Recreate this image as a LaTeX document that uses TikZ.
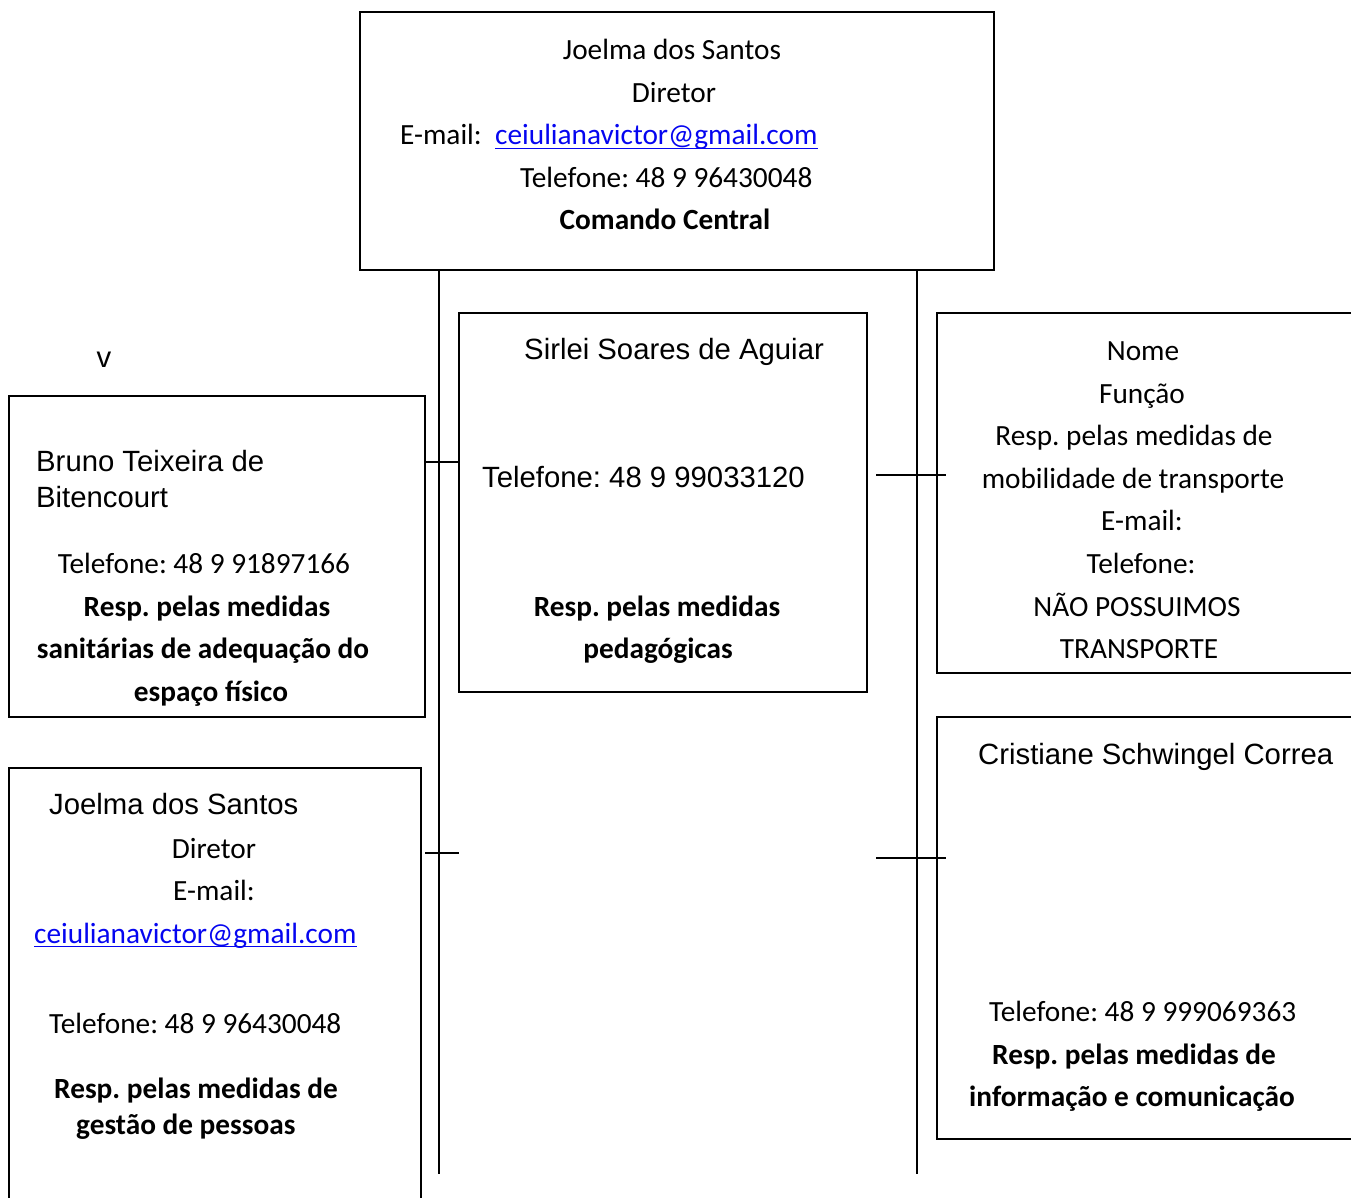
\documentclass[tikz,border=0pt]{standalone}
\usepackage{fontspec}
\setmainfont{Carlito}
\newfontfamily\arialf{Liberation Sans}
\definecolor{linkblue}{RGB}{5,5,240}
\frenchspacing
\begin{document}
\begin{tikzpicture}[x=1pt,y=-1pt,
  box/.style={draw,line width=2.9pt,rectangle,anchor=north west,inner sep=0pt,outer sep=0pt},
  tc/.style={inner sep=0pt,font=\fontsize{29.3}{35}\selectfont\frenchspacing},
  tb/.style={inner sep=0pt,font=\fontsize{29.3}{35}\selectfont\bfseries\frenchspacing},
  ta/.style={inner sep=0pt,font=\fontsize{29.3}{35}\selectfont\arialf\frenchspacing},
  lk/.style={tc,text=linkblue},
  conn/.style={line width=2.9pt}]
\useasboundingbox (0,0) rectangle (1351,1198);
\clip (0,0) rectangle (1351,1198);

% boxes
\node[box,minimum width=634pt,minimum height=258pt] (top) at (360,12) {};
\node[box,minimum width=416pt,minimum height=321pt] (bruno) at (9,396) {};
\node[box,minimum width=408pt,minimum height=379pt] (sirlei) at (459,313) {};
\node[box,minimum width=460pt,minimum height=360pt] (trans) at (937,313) {};
\node[box,minimum width=412pt,minimum height=480pt] (joelma) at (9,768) {};
\node[box,minimum width=460pt,minimum height=422pt] (cris) at (937,717) {};

% trunk lines
\coordinate (L1) at (439,1174);
\coordinate (L2) at (917,1174);
\draw[conn] (L1 |- top.south) -- (L1);
\draw[conn] (L2 |- top.south) -- (L2);

% branch connectors
\coordinate (h1) at (0,462);
\coordinate (h2) at (0,853);
\coordinate (r1a) at (876,475);
\coordinate (r1b) at (946,475);
\coordinate (r2a) at (876,858);
\coordinate (r2b) at (946,858);
\coordinate (h2a) at (425,853);
\draw[conn] (h1 -| bruno.east) -- (h1 -| sirlei.west);
\draw[conn] (h2a) -- (h2 -| sirlei.west);
\draw[conn] (r1a) -- (r1b);
\draw[conn] (r2a) -- (r2b);

% top box text
\node[tc,anchor=base] (t1) at (672,60) {Joelma dos Santos};
\node[tc,anchor=base] (t2) at (674,103) {Diretor};
\node[tc,anchor=base west] (t3) at (400,145) {E-mail:};
\node[lk,anchor=base west] (t3l) at (495,145) {ceiulianavictor@gmail.com};
\draw[linkblue,line width=1.6pt] ([yshift=-3.5pt]t3l.base west) -- ([yshift=-3.5pt]t3l.base east);
\node[tc,anchor=base west] (t4) at (520,188) {Telefone: 48 9 96430048};
\node[tb,anchor=base] (t5) at (665,230) {Comando Central};

% stray v
\node[ta,anchor=base] (v) at (104,367) {v};

% Bruno box
\node[ta,anchor=base west] (b1) at (36,471) {Bruno Teixeira de};
\node[ta,anchor=base west] (b2) at (36,507) {Bitencourt};
\node[tc,anchor=base] (b3) at (204,573) {Telefone: 48 9 91897166};
\node[tb,anchor=base] (b4) at (207,616) {Resp. pelas medidas};
\node[tb,anchor=base] (b5) at (203,658) {sanitárias de adequação do};
\node[tb,anchor=base] (b6) at (211,701) {espaço físico};

% Sirlei box
\node[ta,anchor=base west] (s1) at (524,359) {Sirlei Soares de Aguiar};
\node[ta,anchor=base west] (s2) at (482,487) {Telefone: 48 9 99033120};
\node[tb,anchor=base] (s3) at (657,616) {Resp. pelas medidas};
\node[tb,anchor=base] (s4) at (658,658) {pedagógicas};

% transport box
\node[tc,anchor=base] (m1) at (1143,360) {Nome};
\node[tc,anchor=base] (m2) at (1142,403) {Função};
\node[tc,anchor=base] (m3) at (1134,445) {Resp. pelas medidas de};
\node[tc,anchor=base] (m4) at (1133,488) {mobilidade de transporte};
\node[tc,anchor=base] (m5) at (1142,530) {E-mail:};
\node[tc,anchor=base] (m6) at (1141,573) {Telefone:};
\node[tc,anchor=base] (m7) at (1137,616) {NÃO POSSUIMOS};
\node[tc,anchor=base] (m8) at (1139,658) {TRANSPORTE};

% Joelma (bottom-left) box
\node[ta,anchor=base west] (j1) at (49,814) {Joelma dos Santos};
\node[tc,anchor=base] (j2) at (214,858) {Diretor};
\node[tc,anchor=base] (j3) at (214,900) {E-mail:};
\node[lk,anchor=base west] (j4) at (34,943) {ceiulianavictor@gmail.com};
\draw[linkblue,line width=1.6pt] ([yshift=-3.5pt]j4.base west) -- ([yshift=-3.5pt]j4.base east);
\node[tc,anchor=base west] (j5) at (49,1033) {Telefone: 48 9 96430048};
\node[tb,anchor=base west] (j6) at (54,1098) {Resp. pelas medidas de};
\node[tb,anchor=base west] (j7) at (76,1134) {gestão de pessoas};

% Cristiane box
\node[ta,anchor=base west] (c1) at (978,764) {Cristiane Schwingel Correa};
\node[tc,anchor=base west] (c2) at (989,1021) {Telefone: 48 9 999069363};
\node[tb,anchor=base west] (c3) at (992,1064) {Resp. pelas medidas de};
\node[tb,anchor=base west] (c4) at (969,1106) {informação e comunicação};
\end{tikzpicture}
\end{document}
